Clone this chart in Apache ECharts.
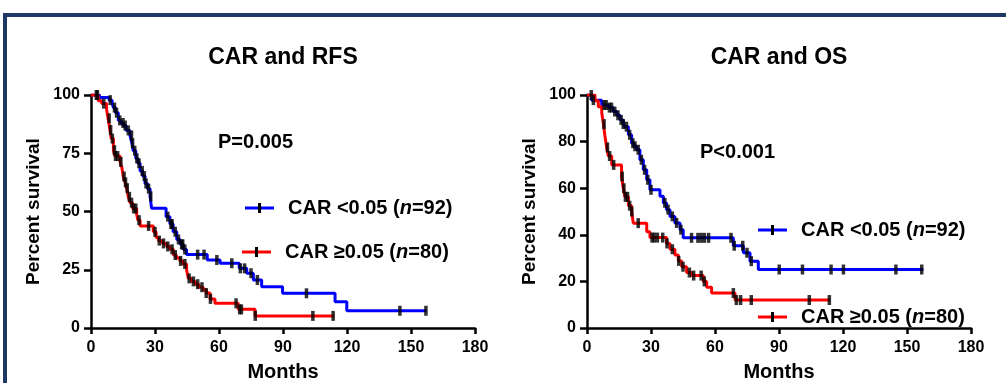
<!DOCTYPE html>
<html>
<head>
<meta charset="utf-8">
<script src="https://cdn.jsdelivr.net/npm/echarts@6/dist/echarts.min.js"></script>
<style>
  html, body {margin: 0; padding: 0; background: #fff;}
  #chart {width: 1006px; height: 383px;}
</style>
</head>
<body>
<div id="chart"></div>
<script>
// Kaplan-Meier steps: [months, percent survival]
const rfsLow = [[0,100],[4,98.9],[8.5,97.8],[9.9,96.7],[10.5,94.6],[11.5,92.4],[12.8,89.1],[14,88],[15.1,86.9],[16.5,84.8],[18.3,82.6],[19.2,79.3],[19.8,76.1],[21,72.8],[22,70.7],[23,67.4],[24.2,65.2],[25.3,62],[26.5,59.8],[27.7,56.5],[28.4,51.4],[35.2,47.8],[37,44.6],[38.5,41.3],[40.2,38],[41.8,35.9],[43.3,33.7],[44.8,31.5],[54.5,29.2],[60.5,27.8],[69.5,25.6],[73,23.5],[76.1,20.6],[80,17.7],[89.8,14.9],[114.4,11.3],[119.9,7.4],[157.3,7.4]];
const rfsHigh = [[0,100],[3.4,97.5],[5,96.3],[7.3,93.8],[8,90],[8.9,85],[9.5,81.3],[10.5,76.3],[11.2,73.8],[13.6,71.3],[14.5,68.8],[15.1,65],[16,62.5],[16.7,60],[17.5,56.3],[18.3,53.8],[19.5,51.3],[21.4,48.8],[22,46.3],[23,43.8],[29.2,41.3],[30.5,38.8],[31.6,37.5],[33.5,36.3],[35.5,35],[37,33.8],[38.6,31.3],[40,30],[41.7,28.8],[43,27.5],[44.8,25],[45.6,21.3],[47,20],[48.8,18.8],[50.5,17.5],[52.6,16.3],[54,15],[55.8,12.5],[58.1,10.6],[69,8],[76.9,5.2],[114,5.2]];
const osLow = [[0,100],[2.2,97.8],[6.9,95.7],[10,94.6],[12.3,92.9],[14,91.3],[15.5,89.3],[17,87.5],[17.8,86.4],[19.4,82.9],[20.9,79.3],[22,78],[23.3,76.5],[24.8,72.2],[26.4,67.9],[28,63.6],[29.5,59.3],[34.2,56.5],[35.8,53.7],[37.3,50.8],[38.9,47.9],[41.2,45.1],[43.6,42.2],[45.1,38.7],[68.6,35.3],[73.3,32.3],[76.4,28.7],[80.3,25.1],[157.7,25.1]];
const osHigh = [[0,100],[3.75,97.5],[5.3,95],[6.9,92.5],[7.7,87.5],[8.4,82.5],[9.2,77.5],[10,73.8],[11.6,70],[16.2,65],[17,60],[17.8,56.3],[19.4,52.5],[20.9,50],[21.7,45],[28,41.3],[29.5,38.8],[37.3,36.3],[38.9,33.8],[41.2,31.3],[42.8,28.8],[44.4,26.3],[46.7,23.8],[49.1,22.5],[54.5,20],[56.1,17.5],[58.4,15],[69.4,12],[113.9,12]];

// censored times (months)
const rfsLowCensor = [3, 9, 11, 12, 13.5, 15, 16, 17.5, 19, 19.5, 20.5, 21.5, 22.5, 24, 25, 25.8, 27, 28, 36, 37.5, 38, 39.5, 41, 42.5, 43, 44, 50, 53, 59, 66, 70, 72, 75, 78, 101, 144.8, 157];
const rfsHighCensor = [2.5, 6, 8.5, 9.2, 10, 11, 11.5, 12.5, 14, 15.5, 16.2, 17, 18, 19, 20, 21, 22.5, 27, 30, 32, 34, 36, 38, 39.5, 42, 44, 46, 48, 50, 52, 54, 56, 68, 69.7, 70.5, 77, 104, 113.5];
const osLowCensor = [3, 8, 9, 10.5, 11.5, 13, 14.5, 16, 17, 18.5, 20, 21.5, 22.5, 24, 25.5, 27, 28.5, 30, 36.5, 38, 40, 42, 44, 49, 52, 53.5, 55, 57, 67.5, 69, 73, 75, 77, 90.1, 101, 114.4, 120.2, 144.8, 156.9];
const osHighCensor = [2, 8, 9.6, 10.6, 12.5, 16.5, 17.3, 18, 19, 20, 21, 24, 30.5, 31.5, 33, 35.5, 37.5, 40, 43, 45, 48, 50, 53.5, 55, 68.6, 70, 72, 77, 104.2, 113.6];

const monthTicks = [0, 30, 60, 90, 120, 150, 180];
const rfsTicks = [0, 25, 50, 75, 100];
const osTicks = [0, 20, 40, 60, 80, 100];

const BLUE = '#0000ff';
const RED = '#ff0000';
const FONT = 'Arial, "Liberation Sans", sans-serif';

const stepAt = (curve, t) => {
  let s = curve[0][1];
  for (const [x, y] of curve) {
    if (x <= t) s = y; else break;
  }
  return s;
};

const chart = echarts.init(document.getElementById('chart'));

const makeX = (grid) => ({
  type: 'value', gridIndex: grid, min: monthTicks[0], max: monthTicks[monthTicks.length - 1],
  interval: monthTicks[1] - monthTicks[0],
  axisLine: {show: true, onZero: false, lineStyle: {color: '#000', width: 2.5}},
  axisTick: {show: true, length: 6, lineStyle: {color: '#000', width: 2.5}},
  splitLine: {show: false},
  axisLabel: {color: '#000', fontWeight: 'bold', fontSize: 16, fontFamily: FONT, margin: 12},
  name: 'Months', nameLocation: 'middle', nameGap: 34,
  nameTextStyle: {color: '#000', fontWeight: 'bold', fontSize: 20, fontFamily: FONT}
});

const makeY = (grid, ticks) => ({
  type: 'value', gridIndex: grid, min: ticks[0], max: ticks[ticks.length - 1],
  interval: ticks[1] - ticks[0],
  axisLine: {show: true, onZero: false, lineStyle: {color: '#000', width: 2.5}},
  axisTick: {show: true, length: 7, lineStyle: {color: '#000', width: 2.5}},
  splitLine: {show: false},
  axisLabel: {color: '#000', fontWeight: 'bold', fontSize: 16, fontFamily: FONT, margin: 11},
  name: 'Percent survival', nameLocation: 'middle', nameGap: 48,
  nameTextStyle: {color: '#000', fontWeight: 'bold', fontSize: 19, fontFamily: FONT}
});

const curve = (data, color, grid) => ({
  type: 'line', xAxisIndex: grid, yAxisIndex: grid, data: data, step: 'end',
  symbol: 'none', lineStyle: {color: color, width: 3}, z: 2
});

const censor = (times, data, grid) => ({
  type: 'scatter', xAxisIndex: grid, yAxisIndex: grid,
  data: times.map(t => [t, stepAt(data, t)]),
  symbol: 'rect', symbolSize: [3.5, 10], itemStyle: {color: '#000'}, z: 3
});

const legendItem = (x, y, color, label) => [
  {type: 'line', shape: {x1: x, y1: y, x2: x + 29, y2: y}, style: {stroke: color, lineWidth: 3}, z: 10},
  {type: 'rect', shape: {x: x + 13, y: y - 5, width: 3, height: 10}, style: {fill: '#000'}, z: 11},
  {type: 'text', x: x + 43, y: y, z: 10, style: {
    text: '{a|' + label[0] + '}{b|n}{a|' + label[1] + '}',
    verticalAlign: 'middle', align: 'left',
    rich: {
      a: {fontSize: 20, fontWeight: 'bold', fontFamily: FONT, fill: '#000'},
      b: {fontSize: 20, fontWeight: 'bold', fontStyle: 'italic', fontFamily: FONT, fill: '#000'}
    }
  }}
];

const plainText = (x, y, text, size, align) => ({
  type: 'text', x: x, y: y, z: 10,
  style: {text: text, fontSize: size, fontWeight: 'bold', fontFamily: FONT, fill: '#000',
    align: align, verticalAlign: 'middle'}
});

chart.setOption({
  animation: false,
  backgroundColor: '#fff',
  grid: [
    {left: 91, top: 95, width: 384, height: 233, outerBoundsMode: 'none'},
    {left: 587, top: 95, width: 384, height: 233, outerBoundsMode: 'none'}
  ],
  xAxis: [makeX(0), makeX(1)],
  yAxis: [makeY(0, rfsTicks), makeY(1, osTicks)],
  series: [
    curve(rfsLow, BLUE, 0), curve(rfsHigh, RED, 0),
    censor(rfsLowCensor, rfsLow, 0), censor(rfsHighCensor, rfsHigh, 0),
    curve(osLow, BLUE, 1), curve(osHigh, RED, 1),
    censor(osLowCensor, osLow, 1), censor(osHighCensor, osHigh, 1)
  ],
  graphic: [
    {type: 'rect', shape: {x: 5, y: 15, width: 1100, height: 450},
      style: {fill: 'none', stroke: '#1f3864', lineWidth: 4}, z: 20},
    plainText(283, 58, 'CAR and RFS', 23, 'center'),
    plainText(779, 58, 'CAR and OS', 23, 'center'),
    plainText(218, 142, 'P=0.005', 20, 'left'),
    plainText(700, 152, 'P<0.001', 20, 'left'),
    ...legendItem(245, 208, BLUE, ['CAR <0.05 (', '=92)']),
    ...legendItem(242, 252, RED, ['CAR \u22650.05 (', '=80)']),
    ...legendItem(758, 230, BLUE, ['CAR <0.05 (', '=92)']),
    ...legendItem(758, 317, RED, ['CAR \u22650.05 (', '=80)'])
  ]
});
</script>
</body>
</html>
